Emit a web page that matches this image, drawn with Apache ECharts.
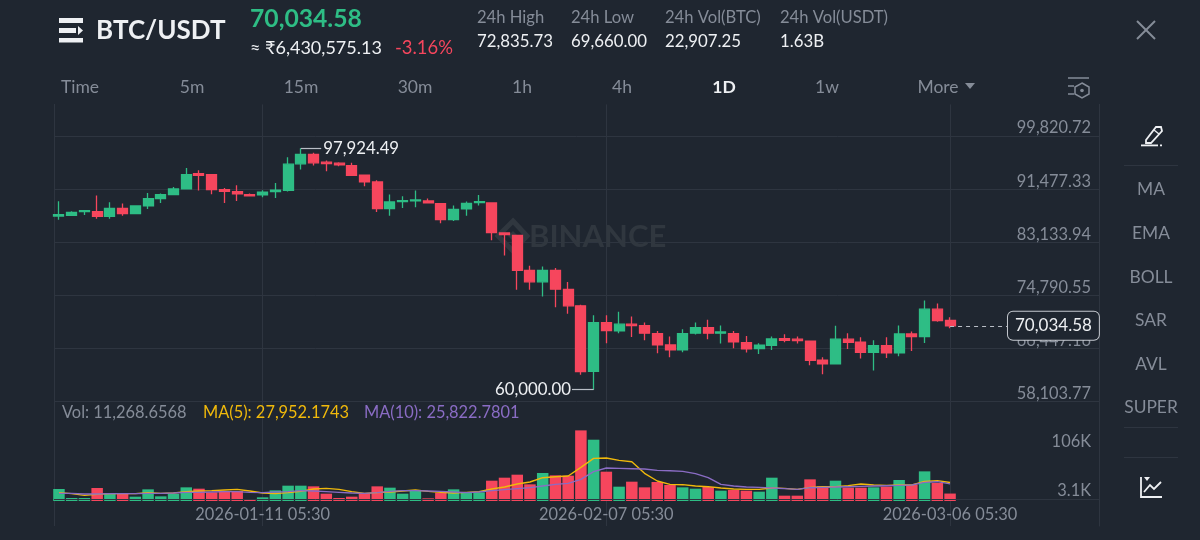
<!DOCTYPE html>
<html>
<head>
<meta charset="utf-8">
<title>BTC/USDT</title>
<script src="https://cdn.jsdelivr.net/npm/echarts@6/dist/echarts.min.js"></script>
<style>
html,body{margin:0;padding:0;background:#1f2630;}
#chart{width:1200px;height:540px;}
</style>
</head>
<body>
<div id="chart"></div>
<script>
// 71 daily candles
var opens = [87286,87391,87968,87968,87233,88493,87653,88860,90015,90644,91537,93951,93793,91432,91117,90644,90592,91117,91327,95473,96942,
  95735,95578,95210,93688,92639,88440,89542,89647,89647,89227,86708,88388,89385,89332,84609,84242,78731,76947,78731,75740,73168,62882,
  70544,69232,70282,70072,68813,67028,66241,68865,69757,68865,68813,67396,66451,66976,68026,67921,67606,64614,64037,67921,67448,65874,66923,65769,68760,68340,72644,70859];
var closes = [87496,87863,88125,87233,88493,87653,88860,90015,90644,91537,93793,93688,91432,91169,90749,90434,91012,91327,95420,96942,95630,
  95525,95315,93688,92639,88440,89490,89700,89805,89332,86708,88335,89280,89542,84662,84347,78731,76947,78731,75792,73168,62830,70544,
  69285,70282,70072,68865,67028,66241,68813,69757,68865,69075,67501,66398,66976,67973,67763,67711,64614,64037,67921,67448,65874,66923,65769,68760,68340,72644,70859,70034.58];
var lows = [86708,87286,87443,86866,86866,87338,87548,88388,89332,90600,91500,91274,90697,89332,89647,90330,90225,90120,91117,94580,95210,
  94318,95105,93650,91956,87915,87338,88545,88650,89227,86131,86498,87338,88913,83455,81093,75687,75687,74638,72958,71909,62357,60000,
  67291,68865,68288,67763,65716,65086,65874,68655,67920,67238,66503,65821,65611,66241,67448,67238,63827,62410,63932,66399,64877,62987,64982,65244,66084,67343,70650,69660];
var highs = [89595,88020,88180,90487,89437,89227,88900,90907,90802,91851,94843,94475,93830,91694,92114,90802,91327,92481,96522,97924.49,97204,
  95997,95735,95630,93720,92901,90644,90382,91274,90015,89260,88913,89542,90592,89370,84640,84270,79466,79361,79099,76894,73326,71699,
  71699,72224,71489,70544,69232,68340,69495,70544,70964,70072,69232,68445,67291,68340,68708,68340,67640,65087,70020,68865,68235,67763,68235,70072,69128,74008,73536,71384];
var volumes = [18144,4536,4536,19656,11592,10584,6552,17640,7056,10584,20664,18648,13104,15120,15120,3024,5544,16128,23184,23184,22176,
  11088,4536,6552,11592,22176,20160,11088,15624,4032,12600,17640,12096,13104,30744,35280,39816,25200,42336,38808,38304,106848,92736,44352,21672,29232,20664,28728,
  24192,20664,18648,21168,15624,16632,15624,14112,35280,8064,8064,32760,22176,30744,20160,20160,20664,21672,31752,24192,44856,27216,11268.66];
var ma5 = [12600,11088,8568,10080,11088,11088,11088,12600,11592,12096,14112,15120,15624,16632,17640,15120,12096,11088,12600,14616,18144,
  19152,17640,14112,11592,12600,13608,15120,16632,14616,13104,12096,13104,14112,18144,21168,25704,28728,35280,36792,37800,50904,64512,65016,61488,59472,41832,30240,
  25200,24696,22680,21672,19656,18144,17640,17640,19656,19152,17640,20664,21672,21672,23184,25704,24192,23688,24192,24192,29736,30744,27952.17];
var ma10 = [11592,11592,10584,10584,11088,11088,11088,11592,11592,12096,13104,13104,13608,14112,14112,13104,12600,13608,14112,15624,15120,
  14112,13104,12096,11592,12600,14616,15624,15624,15120,14616,13608,12600,13608,15624,17136,18648,20160,22680,25200,26712,32760,44352,49896,49392,48888,48384,46368,
  45864,44856,41328,35280,25200,22680,21168,20664,19656,18648,17640,20160,20664,21168,21672,22176,22680,23184,23688,24192,28224,29232,25822.78];

var priceTicks = [58103.77,66447.16,74790.55,83133.94,91477.33,99820.72];
var volTicks = [3100,106000];
var dateTicks = [16,43,70];
var dateLabels = ['2026-01-11 05:30','2026-02-07 05:30','2026-03-06 05:30'];

var tabNames = ['Time','5m','15m','30m','1h','4h','1D','1w','More'];
var tabCenters = [80,192,301,415,522,622,724,827,938];
var sideNames = ['MA','EMA','BOLL','SAR','AVL','SUPER'];
var sideCenters = [189,233,277,320,364,407];
var statNames = ['24h High','24h Low','24h Vol(BTC)','24h Vol(USDT)'];
var statValues = ['72,835.73','69,660.00','22,907.25','1.63B'];
var statLefts = [477,571,665,780];

var GREEN = '#2ebd85', RED = '#f6465d', GREY = '#858c98', WHITE = '#eef0f3', LINE = '#2e3540', MARK = '#30373f';
var YELLOW = '#f0b90b', PURPLE = '#8a6cc4';
var FONT = 'Lato, "Noto Sans", sans-serif';

var myChart = echarts.init(document.getElementById('chart'), null, {renderer:'canvas'});

function candleRows(){
  var res = [];
  for(var i=0;i<opens.length;i++){
    res.push([i,opens[i],closes[i],lows[i],highs[i]]);
  }
  return res;
}
function volRows(){
  var res = [];
  for(var i=0;i<volumes.length;i++){
    res.push({value:[i,volumes[i]],itemStyle:{color:closes[i]>=opens[i]?GREEN:RED}});
  }
  return res;
}
function lineRows(arr){
  var res = [];
  for(var i=0;i<arr.length;i++){ res.push([i,arr[i]]); }
  return res;
}
function text(x,y,str,size,color,align,weight){
  return {type:'text',x:x,y:y,z:10,style:{text:str,font:(weight||'normal')+' '+size+'px '+FONT,fill:color,align:align||'left',verticalAlign:'middle'}};
}
function bar(x,y,w,h,color){
  return {type:'rect',z:10,shape:{x:x,y:y,width:w,height:h},style:{fill:color}};
}
function stroke(pts,color,width){
  return {type:'polyline',z:10,shape:{points:pts},style:{fill:'none',stroke:color,lineWidth:width||1.5}};
}

function headerGraphics(){
  var g = [];
  // frame line on the left of the plot
  g.push({type:'line',z:0,shape:{x1:54.5,y1:104,x2:54.5,y2:526},style:{stroke:LINE,lineWidth:1}});
  // menu icon
  g.push(bar(59,18,24,5,WHITE));
  g.push(bar(59,28,17,5,WHITE));
  g.push({type:'polygon',z:10,shape:{points:[[78,26],[83,30.5],[78,35]]},style:{fill:WHITE}});
  g.push(bar(59,38,24,4.5,WHITE));
  g.push(text(96,31,'BTC/USDT',26,WHITE,'left','bold'));
  g.push(text(250,19,'70,034.58',24.7,GREEN,'left','bold'));
  g.push(text(250,48,'≈ ₹6,430,575.13',18,WHITE));
  g.push(text(395,48,'-3.16%',18.4,RED));
  for(var i=0;i<statNames.length;i++){
    g.push(text(statLefts[i],18,statNames[i],16.6,GREY));
    g.push(text(statLefts[i],42,statValues[i],16.8,WHITE));
  }
  // close icon
  g.push(stroke([[1137,21],[1155,39]],GREY,2));
  g.push(stroke([[1155,21],[1137,39]],GREY,2));
  for(var j=0;j<tabNames.length;j++){
    g.push(text(tabCenters[j],87,tabNames[j],17.5,j==6?WHITE:GREY,'center',j==6?'bold':'normal'));
  }
  g.push({type:'polygon',z:10,shape:{points:[[965,83],[975,83],[970,89]]},style:{fill:GREY}});
  // settings icon
  g.push(stroke([[1068,78],[1089,78]],GREY,1.5));
  g.push(stroke([[1068,86],[1074,86]],GREY,1.5));
  g.push(stroke([[1068,94],[1074,94]],GREY,1.5));
  g.push({type:'polygon',z:10,shape:{points:[[1082,83],[1089,87],[1089,94],[1082,98],[1075,94],[1075,87]]},style:{fill:'none',stroke:GREY,lineWidth:1.5}});
  g.push({type:'circle',z:10,shape:{cx:1082,cy:90.5,r:1.8},style:{fill:GREY}});
  // right column
  for(var k=0;k<sideNames.length;k++){
    g.push(text(1151,sideCenters[k],sideNames[k],17.4,GREY,'center'));
  }
  g.push(bar(1124,165,54,1,LINE));
  g.push(bar(1124,427,54,1,LINE));
  g.push(bar(1124,457,54,1,LINE));
  // pencil icon
  g.push({type:'polygon',z:10,shape:{points:[[1146,140],[1156,127],[1161,127],[1162,131],[1151,143],[1146,143]]},style:{fill:'none',stroke:WHITE,lineWidth:1.8}});
  g.push(stroke([[1154,130],[1159,134]],WHITE,1.5));
  g.push(bar(1141,144.5,17,1.8,WHITE));
  g.push(bar(1160,144.5,2,1.8,WHITE));
  // chart icon
  g.push(stroke([[1141,477],[1141,497],[1162,497]],WHITE,1.8));
  g.push(stroke([[1144,492],[1150,485],[1154,489],[1161,482]],WHITE,1.8));
  g.push({type:'polygon',z:10,shape:{points:[[1144,477],[1150,477],[1147,481]]},style:{fill:WHITE}});
  // volume legend
  g.push(text(62,413,'Vol: 11,268.6568',16.4,GREY));
  g.push(text(203,413,'MA(5): 27,952.1743',16.4,YELLOW));
  g.push(text(364,413,'MA(10): 25,822.7801',16.4,PURPLE));
  // watermark
  g.push({type:'polygon',z:1,shape:{points:[[513,221],[527,236],[513,251],[498,236]]},style:{fill:'none',stroke:MARK,lineWidth:5}});
  g.push({type:'polygon',z:1,shape:{points:[[513,231],[518,236],[513,241],[508,236]]},style:{fill:MARK}});
  g.push({type:'text',x:529,y:237,z:1,style:{text:'BINANCE',font:'bold 31px '+FONT,fill:MARK,align:'left',verticalAlign:'middle'}});
  return g;
}

var option = {
  backgroundColor:'#1f2630',
  animation:false,
  textStyle:{fontFamily:FONT},
  grid:[
    {left:54,width:1045,top:104.4,height:297.3},
    {left:54,width:1045,top:401.7,height:124.3}
  ],
  xAxis:[
    {type:'value',gridIndex:0,min:-0.39,max:81.7,
      axisLine:{show:false,onZero:false},axisLabel:{show:false},
      axisTick:{show:false,customValues:dateTicks},
      splitLine:{show:true,lineStyle:{color:LINE,width:1}}},
    {type:'value',gridIndex:1,min:-0.39,max:81.7,position:'bottom',
      axisLine:{show:false,onZero:false},
      axisTick:{show:false,customValues:dateTicks},
      axisLabel:{show:true,inside:true,margin:3,customValues:dateTicks,color:GREY,fontSize:16.4,fontFamily:FONT,
        formatter:function(v){ return dateLabels[dateTicks.indexOf(v)]; }},
      splitLine:{show:true,lineStyle:{color:LINE,width:1}}}
  ],
  yAxis:[
    {type:'value',gridIndex:0,position:'right',min:58103.77,max:104818,scale:true,
      axisLine:{show:true,onZero:false,lineStyle:{color:LINE,width:1}},
      axisTick:{show:false,customValues:priceTicks},
      axisLabel:{inside:true,margin:8,customValues:priceTicks,color:GREY,fontSize:16.4,fontFamily:FONT,verticalAlign:'bottom',
        formatter:function(v){ return v.toLocaleString('en-US',{minimumFractionDigits:2,maximumFractionDigits:2}); }},
      splitLine:{show:true,lineStyle:{color:LINE,width:1}}},
    {type:'value',gridIndex:1,position:'right',min:-37825,max:150241,
      axisLine:{show:true,onZero:false,lineStyle:{color:LINE,width:1}},
      axisTick:{show:false,customValues:volTicks},
      axisLabel:{inside:true,margin:8,customValues:volTicks,color:GREY,fontFamily:FONT,
        rich:{
          low:{fontSize:16.4,color:GREY,fontFamily:FONT,padding:[0,0,16,0]},
          up:{fontSize:16.4,color:GREY,fontFamily:FONT,padding:[22,0,0,0]}
        },
        formatter:function(v){ return v<50000 ? '{low|3.1K}' : '{up|106K}'; }},
      splitLine:{show:false}}
  ],
  series:[
    {name:'Price',type:'candlestick',xAxisIndex:0,yAxisIndex:0,barWidth:10.5,
      encode:{x:0,y:[1,2,3,4]},
      itemStyle:{color:GREEN,color0:RED,borderColor:GREEN,borderColor0:RED,borderWidth:1.3},
      data:candleRows(),
      markLine:{silent:true,symbol:'none',animation:false,
        data:[
          [{coord:[19,97924.49],lineStyle:{color:'#b9bec6',width:1.2,type:'solid'},
            label:{show:true,position:'end',formatter:'97,924.49',color:WHITE,fontSize:16.8,distance:2,fontFamily:FONT}},
           {coord:[20.6,97924.49]}],
          [{coord:[42,60000],lineStyle:{color:'#b9bec6',width:1.2,type:'solid'},
            label:{show:true,position:'end',formatter:'60,000.00',color:WHITE,fontSize:16.8,distance:1,fontFamily:FONT}},
           {coord:[40.3,60000]}],
          [{coord:[70,70034.58],lineStyle:{color:'#b9bec6',width:1.2,type:[4,4]},
            label:{show:true,position:'end',formatter:'70,034.58',color:WHITE,fontSize:17,distance:0,fontFamily:FONT,
              backgroundColor:'#1f2630',borderColor:'#c5c9cf',borderWidth:1,borderRadius:5,padding:[6,7,5,7]}},
           {coord:[74.55,70034.58]}]
        ]}},
    {name:'Vol',type:'bar',xAxisIndex:1,yAxisIndex:1,barWidth:11.5,data:volRows(),
      markLine:{silent:true,symbol:'none',animation:false,label:{show:false},
        lineStyle:{color:LINE,width:1,type:'solid'},data:[{yAxis:2000}]}},
    {name:'MA5',type:'line',xAxisIndex:1,yAxisIndex:1,showSymbol:false,data:lineRows(ma5),lineStyle:{color:YELLOW,width:1.4}},
    {name:'MA10',type:'line',xAxisIndex:1,yAxisIndex:1,showSymbol:false,data:lineRows(ma10),lineStyle:{color:PURPLE,width:1.4}}
  ],
  graphic:headerGraphics()
};
myChart.setOption(option);
window.onresize = myChart.resize;
</script>
</body>
</html>
